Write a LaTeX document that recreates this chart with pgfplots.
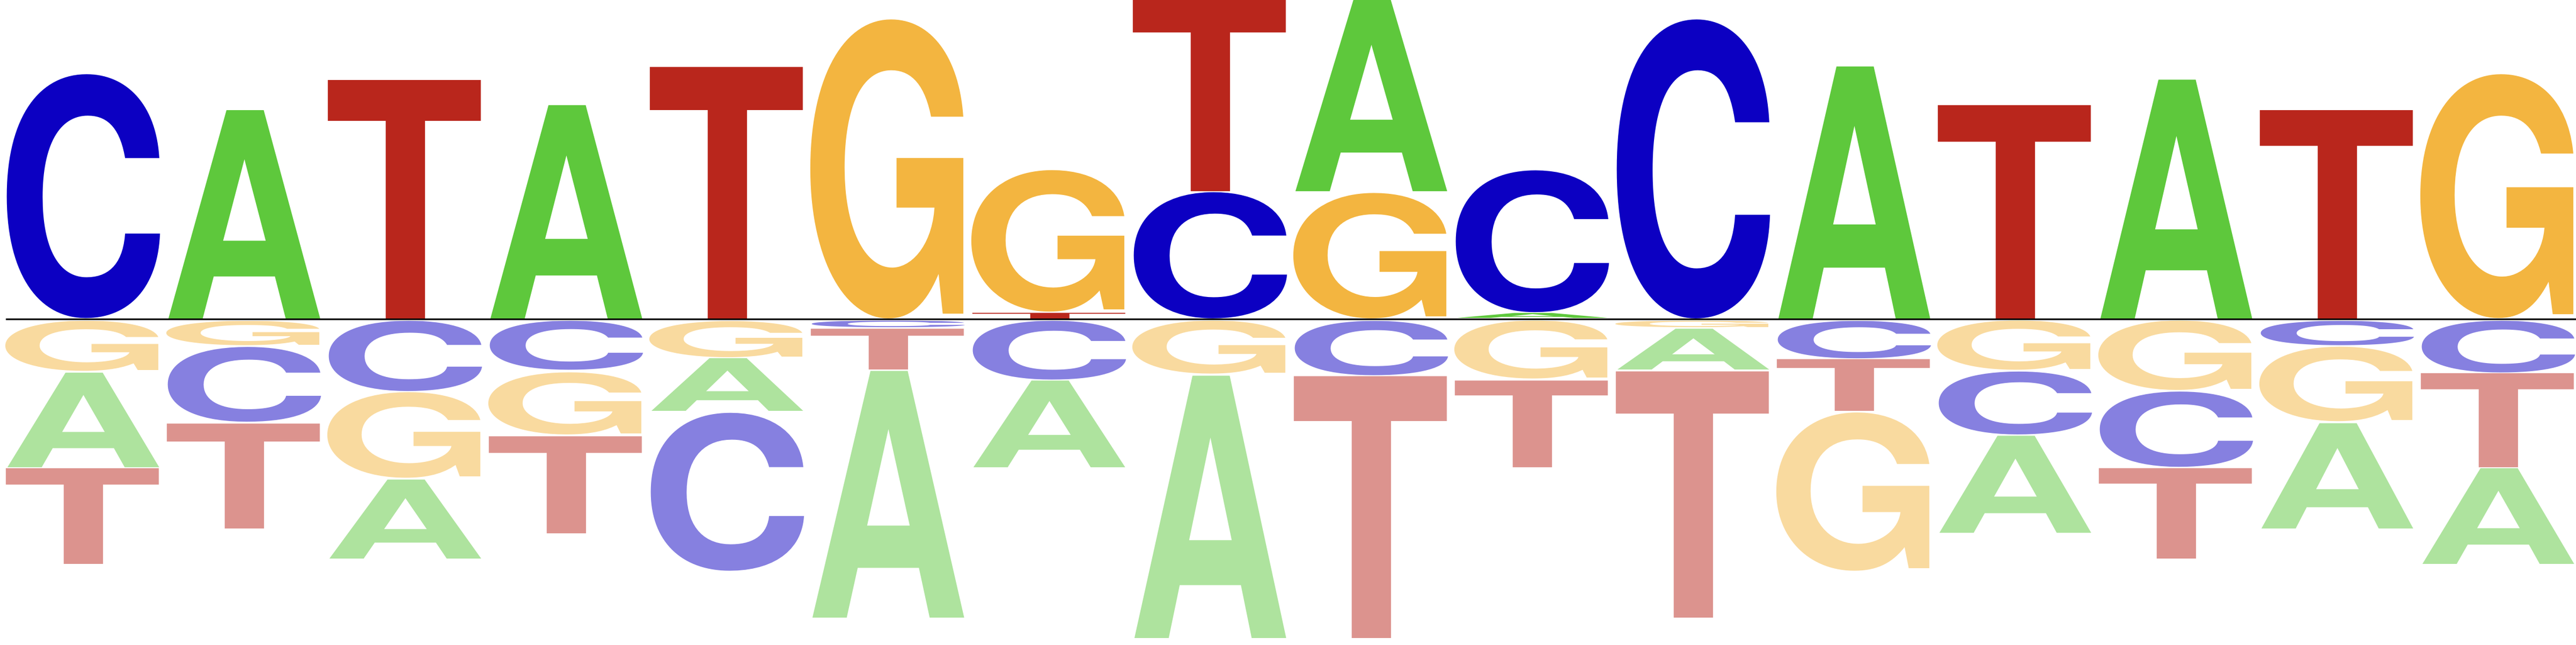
\documentclass[border=0pt]{standalone}
\usepackage{pgfplots}
\usepackage{pgfplotstable}
\usepackage{graphicx}
\usepackage{fontspec}
\pgfplotsset{compat=1.18}
\newfontfamily\logofont{TeX Gyre Heros}
\definecolor{colA}{RGB}{94,200,60}
\definecolor{colC}{RGB}{12,0,194}
\definecolor{colG}{RGB}{243,181,64}
\definecolor{colT}{RGB}{185,38,28}

\pgfplotstableread{
x b h
2 0.005 1.293
4 0.005 1.324
9 0.793 1.189
10 0.005 0.031
12 0.005 1.564
14 0.005 1.482
}\Apos
\pgfplotstableread{
x b h
1 0.005 1.513
8 0.005 0.783
10 0.043 0.880
11 0.005 1.855
}\Cpos
\pgfplotstableread{
x b h
6 0.005 1.855
7 0.045 0.878
9 0.005 0.778
16 0.005 1.513
}\Gpos
\pgfplotstableread{
x b h
3 0.005 1.480
5 0.005 1.561
7 0.005 0.035
8 0.793 1.189
13 0.005 1.324
15 0.005 1.293
}\Tpos
\pgfplotstableread{
x b h
1 -0.918 0.587
3 -1.485 0.490
5 -0.571 0.327
6 -1.852 1.531
7 -0.918 0.538
8 -1.980 1.628
11 -0.314 0.253
13 -1.327 0.602
15 -1.298 0.653
16 -1.518 0.594
}\Aneg
\pgfplotstableread{
x b h
2 -0.638 0.464
3 -0.446 0.436
4 -0.314 0.304
5 -1.561 0.980
6 -0.051 0.041
7 -0.375 0.365
9 -0.347 0.337
12 -0.242 0.232
13 -0.717 0.390
14 -0.918 0.467
15 -0.161 0.151
16 -0.332 0.321
}\Cneg
\pgfplotstableread{
x b h
1 -0.321 0.311
2 -0.161 0.151
3 -0.985 0.531
4 -0.717 0.385
5 -0.235 0.224
8 -0.339 0.329
10 -0.370 0.360
11 -0.051 0.041
12 -1.561 0.982
13 -0.316 0.306
14 -0.441 0.431
15 -0.633 0.462
}\Gneg
\pgfplotstableread{
x b h
1 -1.518 0.594
2 -1.298 0.651
4 -1.329 0.602
6 -0.314 0.253
9 -1.980 1.625
10 -0.918 0.538
11 -1.852 1.528
12 -0.569 0.321
14 -1.485 0.561
16 -0.918 0.584
}\Tneg

% #1 letter, #2 colour, #3 table, #4 box width, #5 xshift
\newcommand{\logoplot}[5]{%
\addplot[only marks, mark=none,
  point meta=explicit symbolic,
  nodes near coords={\resizebox*{#4}{\pgfplotspointmeta cm}{\logofont\bfseries #1}},
  nodes near coords style={anchor=south, inner sep=0pt, outer sep=0pt, xshift=#5, text=#2}]
  table[x=x, y=b, meta=h] {#3};
}

\begin{document}
\begin{tikzpicture}
\begin{axis}[
  x=1cm, y=1cm,
  xmin=0.487, xmax=16.487,
  ymin=-2.018, ymax=1.982,
  hide axis, clip=false,
]
\logoplot{A}{colA}{\Apos}{1.005cm}{0cm}
\logoplot{C}{colC}{\Cpos}{1.072cm}{0cm}
\logoplot{G}{colG}{\Gpos}{1.105cm}{0.013cm}
\logoplot{T}{colT}{\Tpos}{0.994cm}{0cm}
\logoplot{A}{colA!50!white}{\Aneg}{1.005cm}{0cm}
\logoplot{C}{colC!50!white}{\Cneg}{1.072cm}{0cm}
\logoplot{G}{colG!50!white}{\Gneg}{1.105cm}{0.013cm}
\logoplot{T}{colT!50!white}{\Tneg}{0.994cm}{0cm}
\addplot[black, line width=0.35pt] coordinates {(0.523,0) (16.487,0)};
\end{axis}
\pgfresetboundingbox
\path[use as bounding box] (current axis.south west) rectangle (current axis.north east);
\end{tikzpicture}
\end{document}
